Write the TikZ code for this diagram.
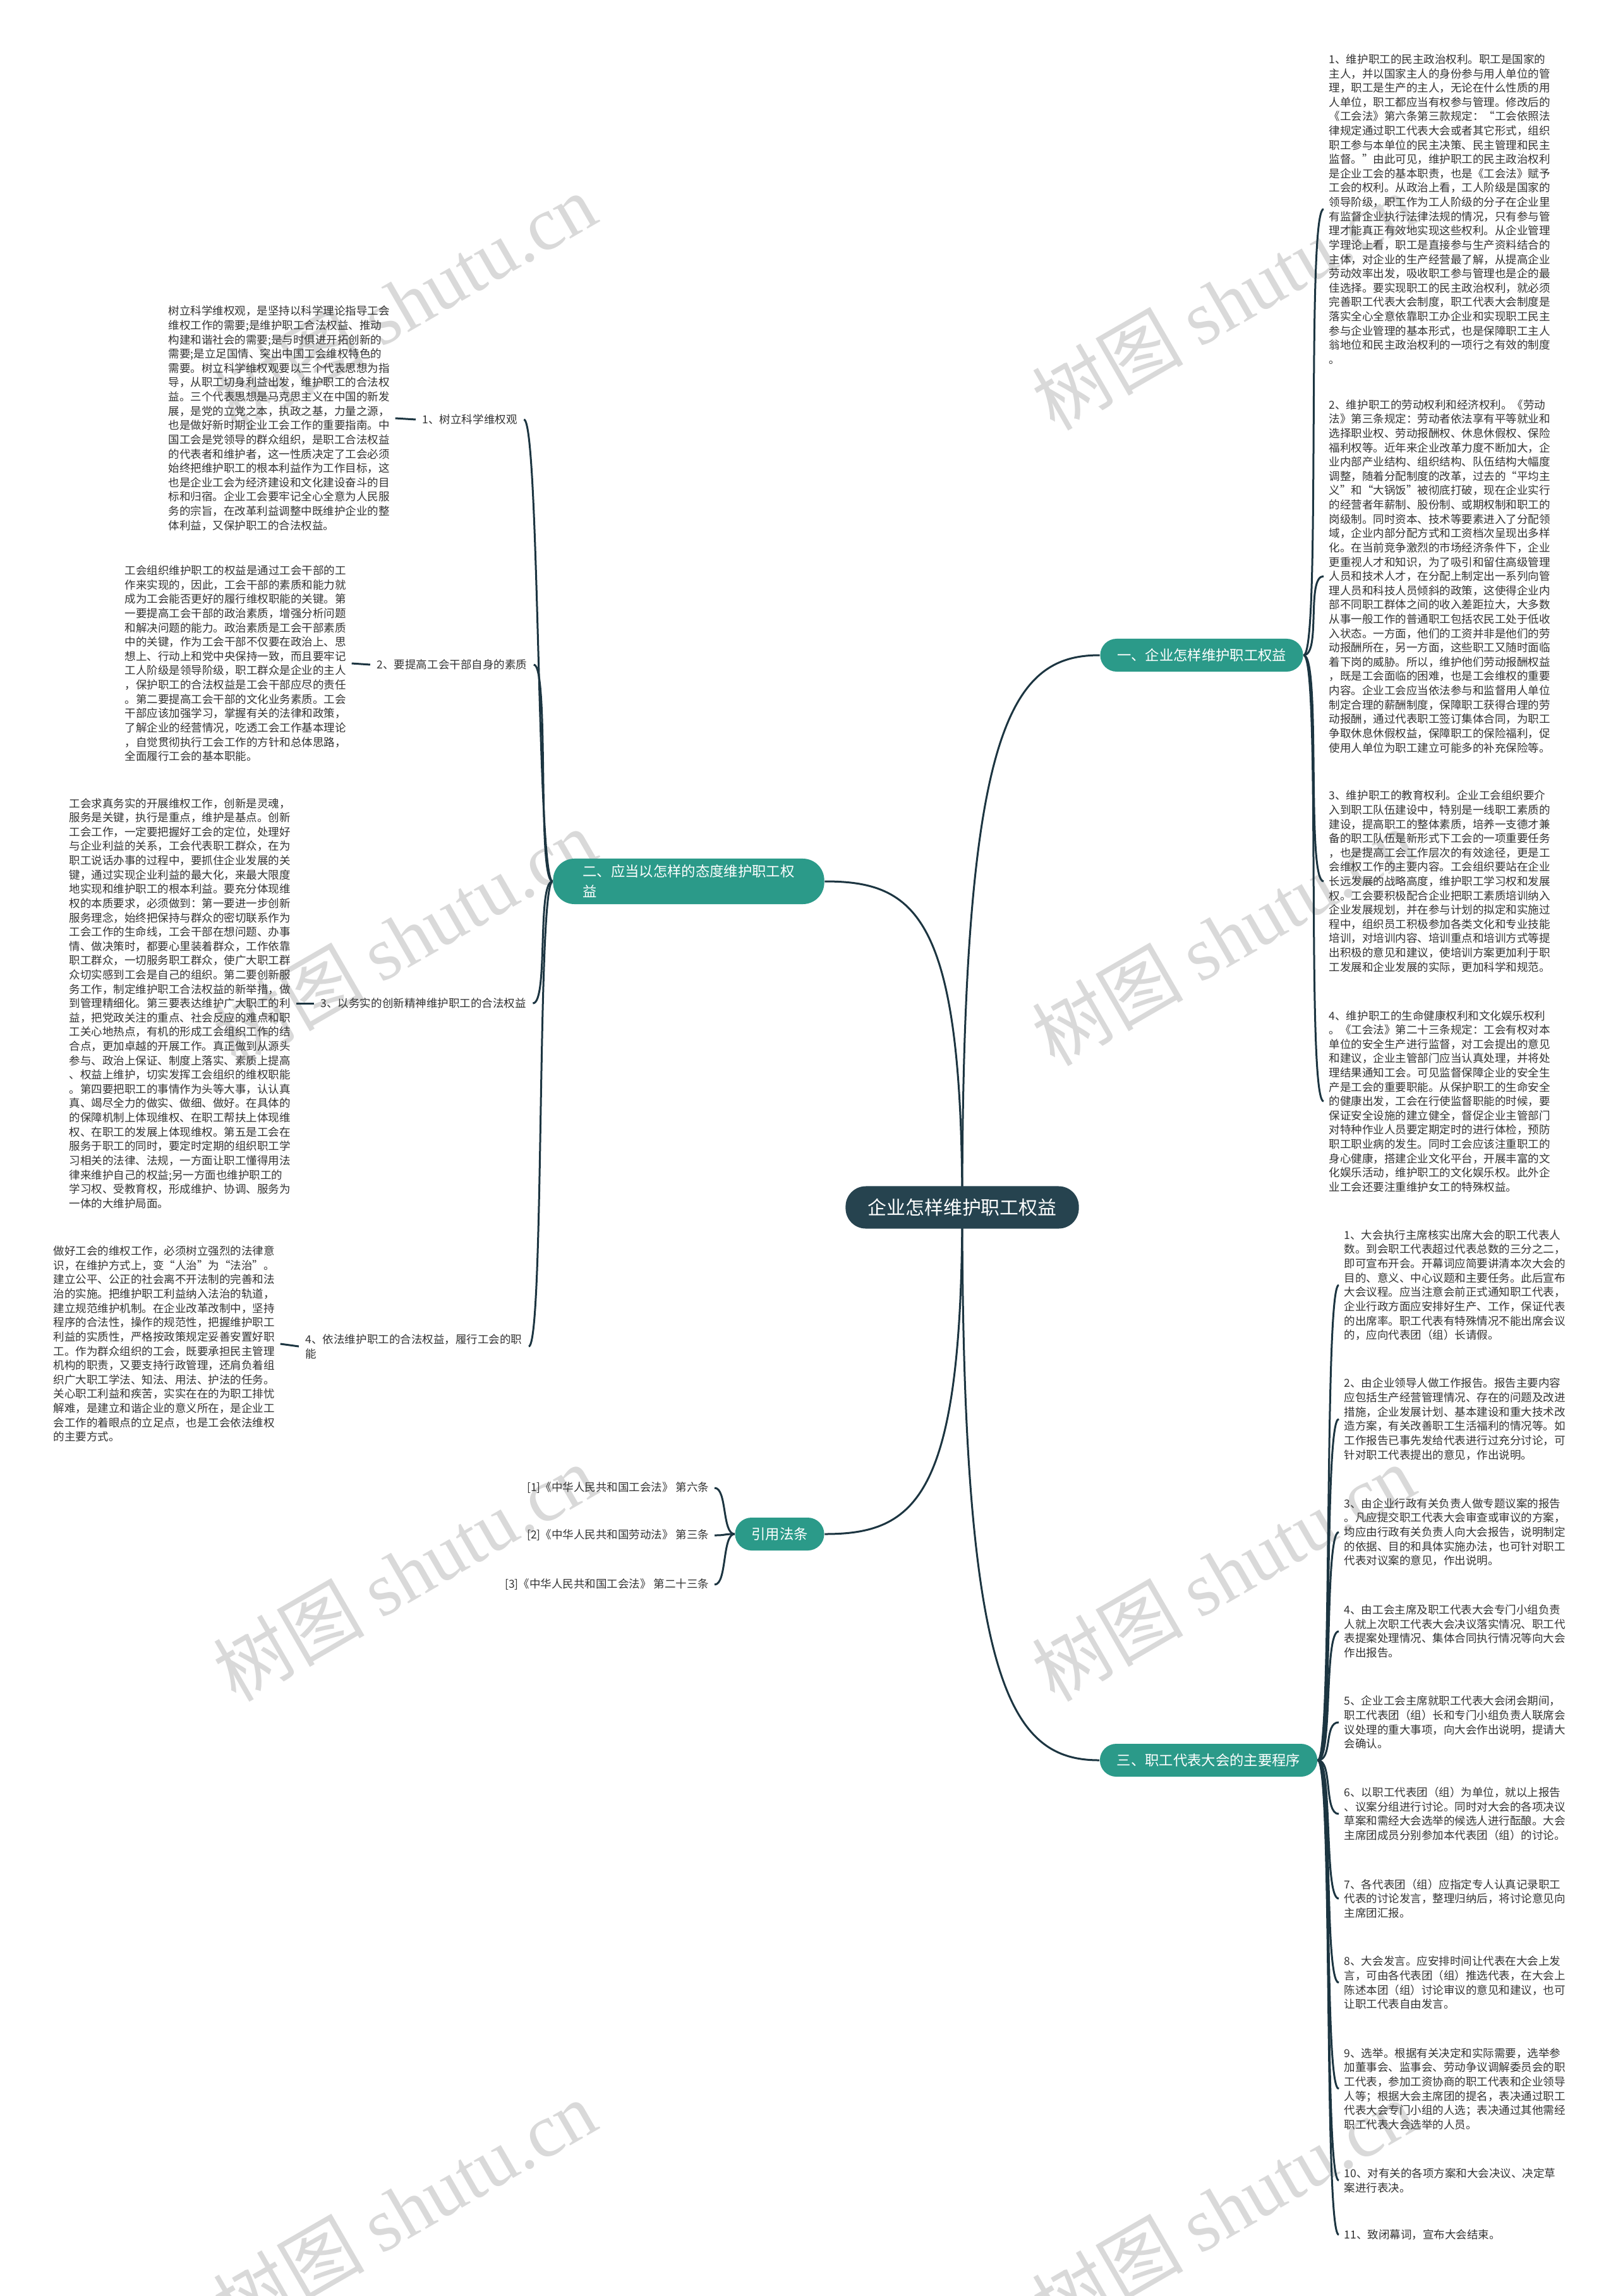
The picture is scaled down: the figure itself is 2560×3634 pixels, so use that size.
\documentclass[tikz,border=0pt]{standalone}
\usepackage{fontspec}
\setmainfont{Noto Sans CJK SC}
\newfontfamily\cjk{Noto Sans CJK SC}
\newfontfamily\wmserif{Liberation Serif}
\usetikzlibrary{backgrounds}
\definecolor{linec}{HTML}{1C3541}
\definecolor{tealc}{HTML}{2B9A89}
\definecolor{darkc}{HTML}{26434F}
\definecolor{txtc}{HTML}{333333}
\definecolor{wmc}{HTML}{D9D9D9}
\tikzset{
  blk/.style={font=\cjk\fontsize{4.98pt}{6.43pt}\selectfont, text=txtc, align=left, inner xsep=0.08cm, inner ysep=0pt, anchor=west},
  lab/.style={font=\cjk\fontsize{4.98pt}{6.43pt}\selectfont, text=txtc, align=left, inner xsep=0.1cm, inner ysep=0pt, anchor=west},
  refl/.style={font=\cjk\fontsize{4.98pt}{6.43pt}\selectfont, text=txtc, align=right, inner xsep=0.08cm, inner ysep=0pt, anchor=east},
  pill/.style={fill=tealc, text=white, font=\cjk\fontsize{6.35pt}{9.1pt}\selectfont, inner sep=0pt, align=left},
  ctrbox/.style={fill=darkc, text=white, font=\cjk\fontsize{8.5pt}{10pt}\selectfont, inner sep=0pt, rounded corners=0.32cm, minimum width=3.69cm, minimum height=0.67cm},
  con/.style={draw=linec, line width=0.03cm},
  wm/.style={text=wmc, font=\fontsize{34pt}{36pt}\selectfont, rotate=30, inner sep=0pt}
}
\begin{document}
\begin{tikzpicture}[x=0.01cm,y=-0.01cm]
\useasboundingbox (0,0) rectangle (2560,3634);

% ---------- central node and main branches ----------
\node[ctrbox] (ctr) at (1523,1911) {企业怎样维护职工权益};
\node[pill, minimum width=3.21cm, minimum height=0.52cm, rounded corners=0.26cm] (b1) at (1902,1037) {一、企业怎样维护职工权益};
\node[pill, minimum width=4.29cm, minimum height=0.72cm, rounded corners=0.34cm] (b2) at (1090,1395) {二、应当以怎样的态度维护职工权\\益};
\node[pill, minimum width=1.41cm, minimum height=0.52cm, rounded corners=0.26cm] (b4) at (1234,2428) {引用法条};
\node[pill, minimum width=3.44cm, minimum height=0.52cm, rounded corners=0.26cm] (b3) at (1913,2786) {三、职工代表大会的主要程序};

% ---------- branch one children ----------
\node[blk] (r1) at (2095,331) {1、维护职工的民主政治权利。职工是国家的\\
主人，并以国家主人的身份参与用人单位的管\\
理，职工是生产的主人，无论在什么性质的用\\
人单位，职工都应当有权参与管理。修改后的\\
《工会法》第六条第三款规定：“工会依照法\\
律规定通过职工代表大会或者其它形式，组织\\
职工参与本单位的民主决策、民主管理和民主\\
监督。”由此可见，维护职工的民主政治权利\\
是企业工会的基本职责，也是《工会法》赋予\\
工会的权利。从政治上看，工人阶级是国家的\\
领导阶级，职工作为工人阶级的分子在企业里\\
有监督企业执行法律法规的情况，只有参与管\\
理才能真正有效地实现这些权利。从企业管理\\
学理论上看，职工是直接参与生产资料结合的\\
主体，对企业的生产经营最了解，从提高企业\\
劳动效率出发，吸收职工参与管理也是企的最\\
佳选择。要实现职工的民主政治权利，就必须\\
完善职工代表大会制度，职工代表大会制度是\\
落实全心全意依靠职工办企业和实现职工民主\\
参与企业管理的基本形式，也是保障职工主人\\
翁地位和民主政治权利的一项行之有效的制度\\
。};
\node[blk] (r2) at (2095,912) {2、维护职工的劳动权利和经济权利。《劳动\\
法》第三条规定：劳动者依法享有平等就业和\\
选择职业权、劳动报酬权、休息休假权、保险\\
福利权等。近年来企业改革力度不断加大，企\\
业内部产业结构、组织结构、队伍结构大幅度\\
调整，随着分配制度的改革，过去的“平均主\\
义”和“大锅饭”被彻底打破，现在企业实行\\
的经营者年薪制、股份制、或期权制和职工的\\
岗级制。同时资本、技术等要素进入了分配领\\
域，企业内部分配方式和工资档次呈现出多样\\
化。在当前竞争激烈的市场经济条件下，企业\\
更重视人才和知识，为了吸引和留住高级管理\\
人员和技术人才，在分配上制定出一系列向管\\
理人员和科技人员倾斜的政策，这使得企业内\\
部不同职工群体之间的收入差距拉大，大多数\\
从事一般工作的普通职工包括农民工处于低收\\
入状态。一方面，他们的工资并非是他们的劳\\
动报酬所在，另一方面，这些职工又随时面临\\
着下岗的威胁。所以，维护他们劳动报酬权益\\
，既是工会面临的困难，也是工会维权的重要\\
内容。企业工会应当依法参与和监督用人单位\\
制定合理的薪酬制度，保障职工获得合理的劳\\
动报酬，通过代表职工签订集体合同，为职工\\
争取休息休假权益，保障职工的保险福利，促\\
使用人单位为职工建立可能多的补充保险等。};
\node[blk] (r3) at (2095,1395) {3、维护职工的教育权利。企业工会组织要介\\
入到职工队伍建设中，特别是一线职工素质的\\
建设，提高职工的整体素质，培养一支德才兼\\
备的职工队伍是新形式下工会的一项重要任务\\
，也是提高工会工作层次的有效途径，更是工\\
会维权工作的主要内容。工会组织要站在企业\\
长远发展的战略高度，维护职工学习权和发展\\
权。工会要积极配合企业把职工素质培训纳入\\
企业发展规划，并在参与计划的拟定和实施过\\
程中，组织员工积极参加各类文化和专业技能\\
培训，对培训内容、培训重点和培训方式等提\\
出积极的意见和建议，使培训方案更加利于职\\
工发展和企业发展的实际，更加科学和规范。};
\node[blk] (r4) at (2095,1743) {4、维护职工的生命健康权利和文化娱乐权利\\
。《工会法》第二十三条规定：工会有权对本\\
单位的安全生产进行监督，对工会提出的意见\\
和建议，企业主管部门应当认真处理，并将处\\
理结果通知工会。可见监督保障企业的安全生\\
产是工会的重要职能。从保护职工的生命安全\\
的健康出发，工会在行使监督职能的时候，要\\
保证安全设施的建立健全，督促企业主管部门\\
对特种作业人员要定期定时的进行体检，预防\\
职工职业病的发生。同时工会应该注重职工的\\
身心健康，搭建企业文化平台，开展丰富的文\\
化娱乐活动，维护职工的文化娱乐权。此外企\\
业工会还要注重维护女工的特殊权益。};

% ---------- branch three children ----------
\node[blk] (s1) at (2119,2034) {1、大会执行主席核实出席大会的职工代表人\\
数。到会职工代表超过代表总数的三分之二，\\
即可宣布开会。开幕词应简要讲清本次大会的\\
目的、意义、中心议题和主要任务。此后宣布\\
大会议程。应当注意会前正式通知职工代表，\\
企业行政方面应安排好生产、工作，保证代表\\
的出席率。职工代表有特殊情况不能出席会议\\
的，应向代表团（组）长请假。};
\node[blk] (s2) at (2119,2246) {2、由企业领导人做工作报告。报告主要内容\\
应包括生产经营管理情况、存在的问题及改进\\
措施，企业发展计划、基本建设和重大技术改\\
造方案，有关改善职工生活福利的情况等。如\\
工作报告已事先发给代表进行过充分讨论，可\\
针对职工代表提出的意见，作出说明。};
\node[blk] (s3) at (2119,2425) {3、由企业行政有关负责人做专题议案的报告\\
。凡应提交职工代表大会审查或审议的方案，\\
均应由行政有关负责人向大会报告，说明制定\\
的依据、目的和具体实施办法，也可针对职工\\
代表对议案的意见，作出说明。};
\node[blk] (s4) at (2119,2582) {4、由工会主席及职工代表大会专门小组负责\\
人就上次职工代表大会决议落实情况、职工代\\
表提案处理情况、集体合同执行情况等向大会\\
作出报告。};
\node[blk] (s5) at (2119,2726) {5、企业工会主席就职工代表大会闭会期间，\\
职工代表团（组）长和专门小组负责人联席会\\
议处理的重大事项，向大会作出说明，提请大\\
会确认。};
\node[blk] (s6) at (2119,2871) {6、以职工代表团（组）为单位，就以上报告\\
、议案分组进行讨论。同时对大会的各项决议\\
草案和需经大会选举的候选人进行酝酿。大会\\
主席团成员分别参加本代表团（组）的讨论。};
\node[blk] (s7) at (2119,3005) {7、各代表团（组）应指定专人认真记录职工\\
代表的讨论发言，整理归纳后，将讨论意见向\\
主席团汇报。};
\node[blk] (s8) at (2119,3138) {8、大会发言。应安排时间让代表在大会上发\\
言，可由各代表团（组）推选代表，在大会上\\
陈述本团（组）讨论审议的意见和建议，也可\\
让职工代表自由发言。};
\node[blk] (s9) at (2119,3306) {9、选举。根据有关决定和实际需要，选举参\\
加董事会、监事会、劳动争议调解委员会的职\\
工代表，参加工资协商的职工代表和企业领导\\
人等；根据大会主席团的提名，表决通过职工\\
代表大会专门小组的人选；表决通过其他需经\\
职工代表大会选举的人员。};
\node[blk] (s10) at (2119,3451) {10、对有关的各项方案和大会决议、决定草\\
案进行表决。};
\node[blk] (s11) at (2119,3537) {11、致闭幕词，宣布大会结束。};

% ---------- branch two: labels and texts ----------
\node[lab] (ll1) at (658,664) {1、树立科学维权观};
\node[lab] (ll2) at (586,1052) {2、要提高工会干部自身的素质};
\node[lab] (ll3) at (497,1588) {3、以务实的创新精神维护职工的合法权益};
\node[lab] (ll4) at (473,2131) {4、依法维护职工的合法权益，履行工会的职\\能};

\node[blk] (l1) at (258,662) {树立科学维权观，是坚持以科学理论指导工会\\
维权工作的需要;是维护职工合法权益、推动\\
构建和谐社会的需要;是与时俱进开拓创新的\\
需要;是立足国情、突出中国工会维权特色的\\
需要。树立科学维权观要以三个代表思想为指\\
导，从职工切身利益出发，维护职工的合法权\\
益。三个代表思想是马克思主义在中国的新发\\
展，是党的立党之本，执政之基，力量之源，\\
也是做好新时期企业工会工作的重要指南。中\\
国工会是党领导的群众组织，是职工合法权益\\
的代表者和维护者，这一性质决定了工会必须\\
始终把维护职工的根本利益作为工作目标，这\\
也是企业工会为经济建设和文化建设奋斗的目\\
标和归宿。企业工会要牢记全心全意为人民服\\
务的宗旨，在改革利益调整中既维护企业的整\\
体利益，又保护职工的合法权益。};
\node[blk] (l2) at (189,1050) {工会组织维护职工的权益是通过工会干部的工\\
作来实现的，因此，工会干部的素质和能力就\\
成为工会能否更好的履行维权职能的关键。第\\
一要提高工会干部的政治素质，增强分析问题\\
和解决问题的能力。政治素质是工会干部素质\\
中的关键，作为工会干部不仅要在政治上、思\\
想上、行动上和党中央保持一致，而且要牢记\\
工人阶级是领导阶级，职工群众是企业的主人\\
，保护职工的合法权益是工会干部应尽的责任\\
。第二要提高工会干部的文化业务素质。工会\\
干部应该加强学习，掌握有关的法律和政策，\\
了解企业的经营情况，吃透工会工作基本理论\\
，自觉贯彻执行工会工作的方针和总体思路，\\
全面履行工会的基本职能。};
\node[blk] (l3) at (101,1588) {工会求真务实的开展维权工作，创新是灵魂，\\
服务是关键，执行是重点，维护是基点。创新\\
工会工作，一定要把握好工会的定位，处理好\\
与企业利益的关系，工会代表职工群众，在为\\
职工说话办事的过程中，要抓住企业发展的关\\
键，通过实现企业利益的最大化，来最大限度\\
地实现和维护职工的根本利益。要充分体现维\\
权的本质要求，必须做到：第一要进一步创新\\
服务理念，始终把保持与群众的密切联系作为\\
工会工作的生命线，工会干部在想问题、办事\\
情、做决策时，都要心里装着群众，工作依靠\\
职工群众，一切服务职工群众，使广大职工群\\
众切实感到工会是自己的组织。第二要创新服\\
务工作，制定维护职工合法权益的新举措，做\\
到管理精细化。第三要表达维护广大职工的利\\
益，把党政关注的重点、社会反应的难点和职\\
工关心地热点，有机的形成工会组织工作的结\\
合点，更加卓越的开展工作。真正做到从源头\\
参与、政治上保证、制度上落实、素质上提高\\
、权益上维护，切实发挥工会组织的维权职能\\
。第四要把职工的事情作为头等大事，认认真\\
真、竭尽全力的做实、做细、做好。在具体的\\
的保障机制上体现维权、在职工帮扶上体现维\\
权、在职工的发展上体现维权。第五是工会在\\
服务于职工的同时，要定时定期的组织职工学\\
习相关的法律、法规，一方面让职工懂得用法\\
律来维护自己的权益;另一方面也维护职工的\\
学习权、受教育权，形成维护、协调、服务为\\
一体的大维护局面。};
\node[blk] (l4) at (76,2127) {做好工会的维权工作，必须树立强烈的法律意\\
识，在维护方式上，变“人治”为“法治”。\\
建立公平、公正的社会离不开法制的完善和法\\
治的实施。把维护职工利益纳入法治的轨道，\\
建立规范维护机制。在企业改革改制中，坚持\\
程序的合法性，操作的规范性，把握维护职工\\
利益的实质性，严格按政策规定妥善安置好职\\
工。作为群众组织的工会，既要承担民主管理\\
机构的职责，又要支持行政管理，还肩负着组\\
织广大职工学法、知法、用法、护法的任务。\\
关心职工利益和疾苦，实实在在的为职工排忧\\
解难，是建立和谐企业的意义所在，是企业工\\
会工作的着眼点的立足点，也是工会依法维权\\
的主要方式。};

% ---------- references ----------
\node[refl] (f1) at (1131,2355) {[1]《中华人民共和国工会法》 第六条};
\node[refl] (f2) at (1131,2430) {[2]《中华人民共和国劳动法》 第三条};
\node[refl] (f3) at (1131,2508) {[3]《中华人民共和国工会法》 第二十三条};

% ---------- background: watermark and connectors ----------
\begin{pgfonlayer}{background}
\fill[white] (0,0) rectangle (2560,3634);
\foreach \wx/\wy [count=\wi] in {640/477,1936/477,640/1483,1936/1483,640/2489,1936/2489,640/3495,1936/3495}{
  \node[wm] (wm\wi) at (\wx,\wy) {{\cjk 树图} {\wmserif shutu.cn}};
}
\draw[con] (ctr.center) .. controls (1523,1150) and (1600,1037) .. (b1.west);
\draw[con] (ctr.center) .. controls (1523,2670) and (1600,2786) .. (b3.west);
\draw[con] (ctr.center) .. controls (1523,1450) and (1450,1395) .. (b2.east);
\draw[con] (ctr.center) .. controls (1523,2370) and (1450,2428) .. (b4.east);
\foreach \n in {r1,r2,r3,r4}{
  \draw[con] (b1.east) .. controls +(28,0) and +(-28,0) .. (\n.west);
}
\foreach \n in {s1,s2,s3,s4,s5,s6,s7,s8,s9,s10,s11}{
  \draw[con] (b3.east) .. controls +(24,0) and +(-24,0) .. (\n.west);
}
\foreach \n in {ll1,ll2,ll3,ll4}{
  \draw[con] (b2.west) .. controls +(-25,0) and +(25,0) .. (\n.east);
}
\foreach \a/\b in {l1/ll1,l2/ll2,l3/ll3,l4/ll4}{
  \draw[con] (\a.east) -- (\b.west);
}
\foreach \n in {f1,f2,f3}{
  \draw[con] (b4.west) .. controls +(-20,0) and +(20,0) .. (\n.east);
}
\end{pgfonlayer}
\end{tikzpicture}
\end{document}
